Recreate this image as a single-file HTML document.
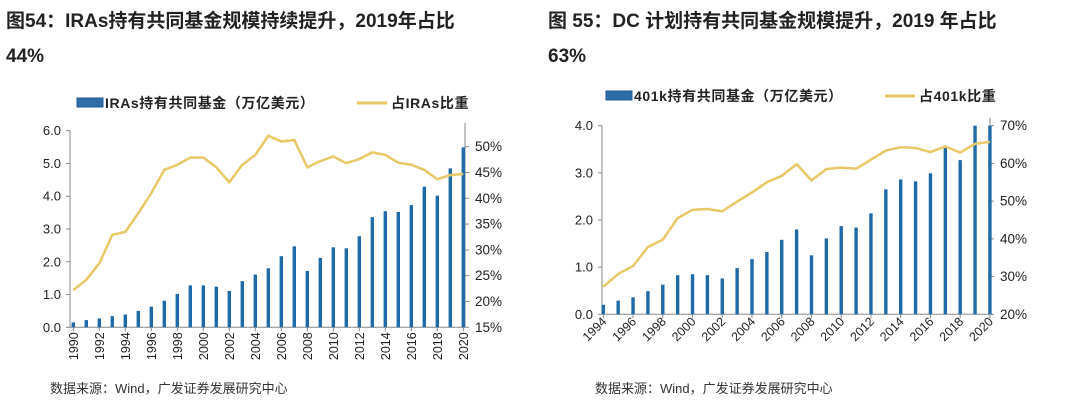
<!DOCTYPE html>
<html><head><meta charset="utf-8"><style>
html,body{margin:0;padding:0;background:#fff;}
svg{display:block;font-family:"Liberation Sans","Noto Sans CJK SC",sans-serif;}
</style></head><body>
<svg id="s" width="1080" height="417" viewBox="0 0 1080 417">
<g font-weight="bold" font-size="19" fill="#222">
<text x="6" y="27">图54：IRAs持有共同基金规模持续提升，2019年占比</text>
<text x="6" y="62">44%</text></g>
<g font-weight="bold" font-size="19" fill="#222">
<text x="548" y="27">图 55：DC 计划持有共同基金规模提升，2019 年占比</text>
<text x="548" y="62">63%</text></g>
<g id="L"></g>
<g id="R"></g>
<text x="50" y="393" font-size="13" fill="#333">数据来源：Wind，广发证券发展研究中心</text>
<text x="595" y="393" font-size="13" fill="#333">数据来源：Wind，广发证券发展研究中心</text>
</svg>
<script>
const iraYears=[1990,1991,1992,1993,1994,1995,1996,1997,1998,1999,2000,2001,2002,2003,2004,2005,2006,2007,2008,2009,2010,2011,2012,2013,2014,2015,2016,2017,2018,2019,2020];
const iraAssets=[0.15,0.22,0.27,0.34,0.39,0.5,0.63,0.81,1.02,1.28,1.28,1.24,1.11,1.41,1.61,1.8,2.17,2.47,1.72,2.12,2.44,2.41,2.78,3.36,3.54,3.52,3.73,4.29,4.02,4.85,5.49];
const iraShare=[22.2,24.2,27.4,32.9,33.5,37.1,41,45.5,46.5,47.9,47.9,46,43.1,46.5,48.4,52.1,51,51.3,46,47.2,48.1,46.8,47.6,48.9,48.4,46.9,46.5,45.5,43.7,44.5,44.7];
const iraLeftTicks=["0.0","1.0","2.0","3.0","4.0","5.0","6.0"];
const iraRightTicks=["15%","20%","25%","30%","35%","40%","45%","50%"];
const kYears=[1994,1995,1996,1997,1998,1999,2000,2001,2002,2003,2004,2005,2006,2007,2008,2009,2010,2011,2012,2013,2014,2015,2016,2017,2018,2019,2020];
const kAssets=[0.2,0.29,0.36,0.49,0.63,0.83,0.85,0.83,0.76,0.98,1.17,1.32,1.58,1.8,1.25,1.61,1.87,1.84,2.14,2.65,2.86,2.82,2.99,3.55,3.27,4.0,4.0];
const kShare=[27.3,30.7,32.8,37.8,39.8,45.5,47.7,47.9,47.3,49.9,52.3,55,56.7,59.8,55.5,58.5,58.9,58.6,61,63.4,64.3,64.1,63,64.5,62.9,65.2,65.7];
const kLeftTicks=["0.0","1.0","2.0","3.0","4.0"];
const kRightTicks=["20%","30%","40%","50%","60%","70%"];
const NS="http://www.w3.org/2000/svg";
function mk(p,t,a,txt){const e=document.createElementNS(NS,t);for(const k in a)e.setAttribute(k,a[k]);if(txt!=null)e.textContent=txt;p.appendChild(e);return e;}
function draw(g,o){
 const {years,assets,share,lt,rt}=o;
 const yL=v=>o.y0-(v-o.lmin)/(o.lmax-o.lmin)*(o.y0-o.y1);
 const yR=v=>o.y0-(v-o.rmin)/(o.rmax-o.rmin)*(o.y0-o.y1);
 const x=i=>o.x0+i*o.step;
 const lg=mk(g,'g',{});
 
 
 const r=mk(lg,'rect',{x:o.lgx,y:o.lgy-5,width:26,height:9,fill:'#2e6ca8',stroke:'#1f5a96'});
 
 const t1=mk(lg,'text',{x:o.lgx+28,y:o.lgy+5,'font-size':14,'font-weight':'bold',fill:'#222','letter-spacing':0.6},o.lab1);
 
 const l2=mk(lg,'line',{x1:o.lgx2,x2:o.lgx2+30,y1:o.lgy,y2:o.lgy,stroke:'#e8c766','stroke-width':3});
 
 const t2=mk(lg,'text',{x:o.lgx2+34,y:o.lgy+5,'font-size':14,'font-weight':'bold',fill:'#222','letter-spacing':0.6},o.lab2);
 
 const ax=mk(g,'line',{x1:o.ax,x2:o.ax,y1:o.y1,y2:o.y0,stroke:'#888'});
 
 const ax2=mk(g,'line',{x1:o.rax,x2:o.rax,y1:o.y1-8,y2:o.y0,stroke:'#888'});
 
 const xa=mk(g,'line',{x1:o.ax,x2:o.rax,y1:o.y0,y2:o.y0,stroke:'#888'});
 
 lt.forEach(s=>{const v=parseFloat(s);const y=yL(v);
  mk(g,'line',{x1:o.ax-4,x2:o.ax,y1:y,y2:y,stroke:'#888'});
  const t=mk(g,'text',{x:o.ax-9,y:y+4.5,'font-size':13,'text-anchor':'end',fill:'#222'},s);
  });
 rt.forEach(s=>{const v=parseFloat(s);const y=yR(v);
  mk(g,'line',{x1:o.rax,x2:o.rax+4,y1:y,y2:y,stroke:'#888'});
  const t=mk(g,'text',{x:o.rax+10,y:y+4.5,'font-size':13.5,fill:'#222'},s);
  });
 years.forEach((yr,i)=>{
  const v=Math.min(assets[i],o.lmax);
  const b=mk(g,'rect',{x:x(i)-1.7,y:yL(v),width:3.4,height:o.y0-yL(v),fill:'#1f6aa8'});
  
  
  if(i%2==0){
   mk(g,'line',{x1:x(i),x2:x(i),y1:o.y0,y2:o.y0+4,stroke:'#888'});
   let t;
   if(o.rot==-90) t=mk(g,'text',{x:0,y:0,'font-size':12.5,'text-anchor':'end',fill:'#222',transform:`translate(${x(i)+4.5},${o.y0+5}) rotate(-90)`},String(yr));
   else t=mk(g,'text',{x:0,y:0,'font-size':12.5,'text-anchor':'end',fill:'#222',transform:`translate(${x(i)+4},${o.y0+8}) rotate(-45)`},String(yr));
   
  }
 });
 const p=mk(g,'polyline',{points:share.map((v,i)=>x(i)+','+yR(v)).join(' '),fill:'none',stroke:'#e8c766','stroke-width':2.5});
 
 
}
const clipL=mk(document.getElementById('s'),'clipPath',{id:'cl'});mk(clipL,'rect',{x:0,y:0,width:540,height:360});
document.getElementById('L').setAttribute('clip-path','url(#cl)');
draw(document.getElementById('L'),{years:iraYears,assets:iraAssets,share:iraShare,lt:iraLeftTicks,rt:iraRightTicks,
 x0:73.3,step:13,y0:327.3,y1:130.7,lmin:0,lmax:6,rmin:15,rmax:53.1,ax:70,rax:465,rot:-90,
 lgx:77,lgy:103,lab1:'IRAs持有共同基金（万亿美元）',lgx2:357,lab2:'占IRAs比重'});
draw(document.getElementById('R'),{years:kYears,assets:kAssets,share:kShare,lt:kLeftTicks,rt:kRightTicks,
 x0:603.3,step:14.87,y0:314.3,y1:125.7,lmin:0,lmax:4,rmin:20,rmax:70,ax:602,rax:990,rot:-45,
 lgx:606,lgy:96,lab1:'401k持有共同基金（万亿美元）',lgx2:885,lab2:'占401k比重'});
</script>
</body></html>
